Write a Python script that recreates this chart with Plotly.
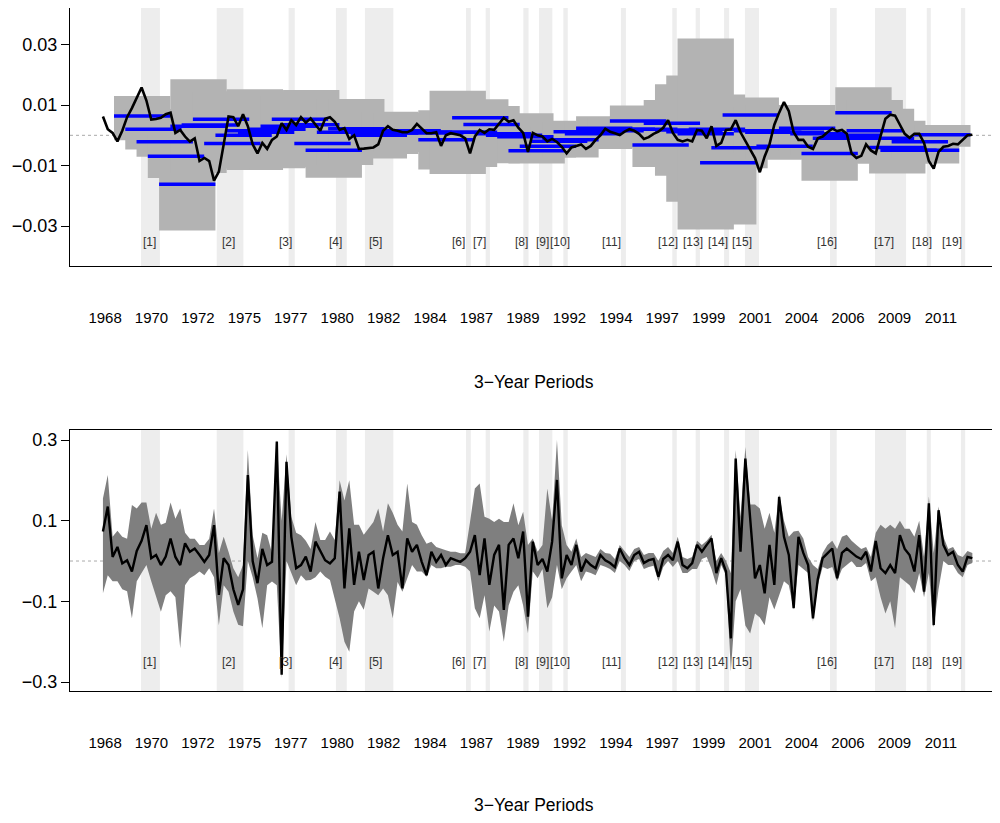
import numpy as np
import plotly.graph_objects as go

# ---------------- data ----------------
year_labels = ["1968", "1970", "1972", "1975", "1977", "1980", "1982", "1984", "1987", "1989",
               "1992", "1994", "1997", "1999", "2001", "2004", "2006", "2009", "2011"]

# shaded event periods (decimal years) and their labels
event_start = [1969.92, 1973.84, 1977.56, 1980.01, 1981.51, 1986.74, 1987.76, 1989.71, 1990.52, 1991.78,
               1994.76, 1997.42, 1998.63, 2000.10, 2001.18, 2005.58, 2007.91, 2010.59, 2012.36]
event_end = [1970.90, 1975.22, 1977.88, 1980.57, 1982.98, 1986.99, 1987.98, 1989.98, 1991.21, 1992.01,
             1995.02, 1997.65, 1998.85, 2000.36, 2001.91, 2005.93, 2009.52, 2010.80, 2012.58]
event_label_x = [1970.37, 1974.46, 1977.40, 1979.98, 1982.04, 1986.33, 1987.44, 1989.61, 1990.68, 1991.61,
                 1994.27, 1997.22, 1998.50, 1999.79, 2001.05, 2005.44, 2008.39, 2010.35, 2011.90]
event_labels = ["[%d]" % (i + 1) for i in range(19)]

# series (quarterly, starting 1967.95)
series_start = 1967.95
top_series = [
    0.0062, 0.0020, 0.0008, -0.0020, 0.0015, 0.0060, 0.0090, 0.0122, 0.0158, 0.0115,
    0.0052, 0.0054, 0.0058, 0.0070, 0.0075, 0.0008, 0.0018, -0.0004, -0.0021, -0.0010,
    -0.0085, -0.0075, -0.0085, -0.0150, -0.0120, -0.0030, 0.0062, 0.0060, 0.0030, 0.0070,
    0.0030, -0.0030, -0.0060, -0.0025, -0.0045, -0.0015, -0.0004, 0.0040, 0.0018, 0.0050,
    0.0034, 0.0060, 0.0042, 0.0056, 0.0036, 0.0015, 0.0055, 0.0060, 0.0045, 0.0018,
    0.0024, -0.0012, 0.0000, -0.0045, -0.0044, -0.0043, -0.0040, -0.0030, 0.0015, 0.0030,
    0.0018, 0.0015, 0.0010, 0.0010, 0.0018, 0.0038, 0.0022, 0.0007, 0.0007, 0.0010,
    -0.0035, 0.0000, 0.0007, 0.0003, 0.0000, -0.0010, -0.0060, -0.0004, 0.0018, 0.0008,
    0.0020, 0.0018, 0.0040, 0.0058, 0.0045, 0.0050, 0.0025, 0.0008, -0.0055, 0.0008,
    0.0000, -0.0004, -0.0020, -0.0012, -0.0022, -0.0038, -0.0060, -0.0040, -0.0035, -0.0030,
    -0.0045, -0.0035, -0.0015, 0.0000, 0.0022, 0.0012, 0.0007, 0.0001, 0.0012, 0.0020,
    0.0015, 0.0005, -0.0012, -0.0006, 0.0005, 0.0012, 0.0025, 0.0050, 0.0008, -0.0015,
    -0.0020, -0.0015, -0.0020, 0.0018, 0.0015, -0.0010, 0.0030, -0.0035, -0.0025, 0.0018,
    0.0020, 0.0050, 0.0010, -0.0020, -0.0048, -0.0075, -0.0122, -0.0070, -0.0030, 0.0035,
    0.0075, 0.0110, 0.0080, 0.0010, -0.0015, -0.0015, -0.0038, -0.0045, -0.0010, -0.0004,
    0.0010, 0.0022, 0.0014, 0.0018, 0.0005, -0.0060, -0.0075, -0.0068, -0.0030, -0.0050,
    -0.0060, 0.0000, 0.0055, 0.0068, 0.0065, 0.0035, 0.0005, -0.0008, 0.0005, 0.0005,
    -0.0025, -0.0085, -0.0110, -0.0055, -0.0038, -0.0035, -0.0028, -0.0030, -0.0015, 0.0000,
    0.0002]

bottom_series = [
    0.073, 0.135, 0.010, 0.035, -0.006, 0.002, -0.026, 0.025, 0.050, 0.089,
    0.007, 0.015, -0.010, 0.011, 0.056, 0.010, -0.010, 0.044, 0.023, 0.031,
    0.015, -0.002, 0.015, 0.089, -0.084, 0.007, -0.010, -0.070, -0.109, -0.070,
    0.213, 0.000, -0.055, 0.030, -0.010, -0.002, 0.296, -0.282, 0.246, 0.060,
    -0.018, -0.010, 0.011, -0.026, 0.048, 0.023, 0.002, -0.006, 0.007, 0.172,
    -0.068, 0.081, -0.059, 0.023, -0.047, 0.015, 0.023, -0.068, 0.007, 0.064,
    0.015, 0.023, -0.068, 0.056, 0.023, 0.040, -0.002, -0.035, 0.023, -0.002,
    0.015, -0.010, 0.007, 0.002, -0.002, 0.007, 0.023, 0.064, -0.035, 0.056,
    -0.059, 0.015, 0.040, -0.121, 0.040, 0.056, 0.007, 0.073, -0.138, 0.048,
    -0.010, 0.005, -0.026, 0.048, 0.201, -0.043, 0.015, -0.010, 0.040, -0.026,
    0.002, -0.010, -0.018, 0.015, 0.002, -0.005, -0.015, 0.031, 0.007, -0.010,
    0.015, 0.023, -0.005, 0.002, 0.005, -0.039, 0.005, 0.015, 0.002, 0.048,
    -0.010, -0.018, -0.005, 0.040, 0.023, 0.040, 0.056, -0.030, 0.007, -0.026,
    -0.192, 0.254, 0.023, 0.254, 0.110, -0.043, -0.010, -0.080, 0.040, -0.059,
    0.159, 0.060, 0.015, -0.117, 0.060, 0.020, -0.010, -0.142, -0.045, 0.007,
    0.019, 0.031, -0.043, 0.020, 0.031, 0.020, 0.011, 0.005, 0.023, -0.026,
    0.050, -0.018, -0.030, -0.010, -0.030, 0.064, 0.030, 0.015, -0.026, 0.064,
    -0.076, 0.143, -0.159, 0.126, 0.040, 0.015, 0.023, -0.010, -0.026, 0.010,
    0.007]

bottom_upper = [
    0.155, 0.213, 0.060, 0.075, 0.060, 0.055, 0.139, 0.130, 0.145, 0.145,
    0.080, 0.120, 0.090, 0.095, 0.145, 0.105, 0.130, 0.070, 0.055, 0.055,
    0.040, 0.040, 0.055, 0.130, 0.020, 0.060, 0.023, -0.018, -0.040, -0.010,
    0.275, 0.064, 0.007, 0.070, 0.064, 0.020, 0.300, 0.100, 0.265, 0.110,
    0.070, 0.064, 0.050, 0.030, 0.097, 0.052, 0.052, 0.073, 0.052, 0.200,
    0.150, 0.200, 0.090, 0.090, 0.065, 0.080, 0.097, 0.130, 0.073, 0.143,
    0.120, 0.090, 0.073, 0.192, 0.097, 0.090, 0.064, 0.043, 0.048, 0.035,
    0.030, 0.027, 0.023, 0.023, 0.019, 0.019, 0.097, 0.180, 0.192, 0.110,
    0.105, 0.097, 0.105, 0.097, 0.097, 0.143, 0.089, 0.122, 0.040, 0.056,
    0.023, 0.040, 0.180, 0.100, 0.300, 0.089, 0.040, 0.023, 0.056, 0.010,
    0.020, 0.015, 0.010, 0.030, 0.020, 0.018, 0.005, 0.040, 0.025, 0.010,
    0.030, 0.035, 0.015, 0.020, 0.020, 0.000, 0.025, 0.035, 0.020, 0.060,
    0.010, 0.005, 0.010, 0.050, 0.040, 0.050, 0.065, 0.000, 0.020, 0.000,
    -0.030, 0.275, 0.110, 0.283, 0.140, 0.140, 0.130, 0.080, 0.120, 0.070,
    0.165, 0.100, 0.060, 0.073, 0.075, 0.056, 0.010, -0.010, -0.020, 0.020,
    0.040, 0.050, 0.030, 0.060, 0.065, 0.050, 0.040, 0.030, 0.035, 0.010,
    0.070, 0.090, 0.080, 0.090, 0.080, 0.100, 0.080, 0.080, 0.060, 0.100,
    0.010, 0.160, 0.020, 0.135, 0.060, 0.030, 0.035, 0.015, 0.010, 0.025,
    0.020]

bottom_lower = [
    -0.080, -0.035, -0.050, -0.050, -0.070, -0.075, -0.142, -0.050, -0.030, -0.010,
    -0.050, -0.090, -0.126, -0.085, -0.075, -0.090, -0.216, -0.060, -0.043, -0.035,
    -0.026, -0.035, -0.018, -0.040, -0.159, -0.060, -0.076, -0.125, -0.158, -0.162,
    0.000, -0.040, -0.093, -0.167, -0.060, -0.051, -0.060, -0.290, 0.000, -0.030,
    -0.060, -0.035, -0.048, -0.047, -0.040, -0.026, -0.039, -0.047, -0.093, -0.142,
    -0.200, -0.225, -0.125, -0.100, -0.121, -0.068, -0.076, -0.085, -0.068, -0.085,
    -0.142, -0.052, -0.076, -0.043, -0.010, -0.026, -0.026, -0.039, -0.010, -0.018,
    -0.018, -0.014, -0.014, -0.010, -0.010, -0.014, -0.026, -0.117, -0.142, -0.085,
    -0.175, -0.110, -0.125, -0.200, -0.110, -0.076, -0.060, -0.110, -0.179, -0.026,
    -0.043, -0.020, -0.117, -0.090, -0.010, -0.070, -0.043, -0.026, -0.010, -0.050,
    -0.026, -0.030, -0.035, -0.010, -0.014, -0.020, -0.030, 0.000, -0.010, -0.025,
    0.000, 0.005, -0.020, -0.015, -0.012, -0.050, -0.015, 0.000, -0.015, 0.000,
    -0.030, -0.030, -0.020, -0.020, 0.005, 0.010, -0.020, -0.060, -0.010, -0.035,
    -0.274, -0.100, -0.070, -0.160, -0.180, -0.130, -0.140, -0.159, -0.090, -0.120,
    -0.085, -0.050, -0.060, -0.120, -0.010, -0.020, -0.030, -0.150, -0.060, -0.015,
    -0.020, -0.015, -0.050, -0.020, -0.010, 0.000, -0.015, -0.015, -0.005, -0.050,
    -0.040, -0.090, -0.130, -0.100, -0.167, -0.040, -0.050, -0.060, -0.080, -0.030,
    -0.090, -0.030, -0.165, -0.070, 0.000, -0.010, -0.010, -0.030, -0.040, -0.010,
    -0.005]

# rolling 3-year periods: first start, step and length (years)
period_first = 1968.5225
period_step = 7 / 12
period_len = 35 / 12
period_mean = [
    0.0064, 0.0020, -0.0021, -0.0069, -0.0162, 0.0030, 0.0034, 0.0053, -0.0027, 0.0000,
    0.0015, 0.0010, 0.0020, 0.0030, 0.0053, 0.0035, -0.0027, -0.0049, 0.0010, 0.0022,
    0.0012, 0.0000, 0.0008, 0.0012, 0.0015, 0.0010, 0.0008, -0.0015, 0.0010, 0.0010,
    0.0058, 0.0036, 0.0005, 0.0000, -0.0005, -0.0051, -0.0036, -0.0020, -0.0015, 0.0012,
    0.0005, 0.0023, 0.0015, 0.0020, 0.0047, 0.0020, -0.0032, 0.0040, 0.0018, 0.0012,
    0.0005, 0.0020, -0.0091, -0.0041, 0.0067, 0.0015, 0.0010, -0.0036, 0.0010, 0.0023,
    0.0005, -0.0060, -0.0010, 0.0000, 0.0075, 0.0015, -0.0010, -0.0040, -0.0049, -0.0021,
    -0.0049, 0.0002]
period_lo = [
    -0.0016, -0.0047, -0.0071, -0.0141, -0.0315, -0.0125, -0.0066, -0.0040, -0.0110, -0.0100,
    -0.0115, -0.0090, -0.0109, -0.0080, -0.0060, -0.0080, -0.0105, -0.0140, -0.0098, -0.0075,
    -0.0055, -0.0077, -0.0062, -0.0055, -0.0045, -0.0050, -0.0055, -0.0113, -0.0128, -0.0105,
    -0.0003, -0.0092, -0.0075, -0.0080, -0.0085, -0.0093, -0.0073, -0.0070, -0.0073, -0.0040,
    -0.0040, -0.0045, -0.0040, -0.0035, -0.0005, -0.0040, -0.0105, -0.0037, -0.0134, -0.0220,
    -0.0311, -0.0095, -0.0295, -0.0109, 0.0009, -0.0060, -0.0080, -0.0080, -0.0060, -0.0054,
    -0.0065, -0.0150, -0.0093, -0.0080, -0.0009, -0.0087, -0.0093, -0.0126, -0.0093, -0.0075,
    -0.0093, -0.0038]
period_hi = [
    0.0130, 0.0087, 0.0029, 0.0003, -0.0009, 0.0185, 0.0134, 0.0146, 0.0056, 0.0100,
    0.0152, 0.0110, 0.0140, 0.0130, 0.0145, 0.0150, 0.0051, 0.0042, 0.0118, 0.0120,
    0.0075, 0.0075, 0.0078, 0.0075, 0.0075, 0.0070, 0.0070, 0.0083, 0.0147, 0.0115,
    0.0119, 0.0097, 0.0070, 0.0070, 0.0073, -0.0009, 0.0048, 0.0030, 0.0043, 0.0045,
    0.0045, 0.0063, 0.0060, 0.0060, 0.0099, 0.0085, 0.0040, 0.0117, 0.0169, 0.0198,
    0.0320, 0.0135, 0.0113, 0.0027, 0.0125, 0.0095, 0.0100, 0.0008, 0.0080, 0.0100,
    0.0075, 0.0030, 0.0073, 0.0080, 0.0159, 0.0117, 0.0088, 0.0048, -0.0005, 0.0030,
    0.0000, 0.0034]

# ---------------- derived x positions ----------------
x_series = series_start + 0.25 * np.arange(len(top_series))
p_start = period_first + period_step * np.arange(len(period_mean))
p_end = p_start + period_len
tick_pos = np.linspace(1968.06, 2011.32, len(year_labels))

X_RANGE = [1966.245, 2014.226]
FONT = "Liberation Sans, Arial, sans-serif"

fig = go.Figure()

shapes = []
# event bands in both panels
for xr, yr in (("x", "y domain"), ("x2", "y2 domain")):
    for s, e in zip(event_start, event_end):
        shapes.append(dict(type="rect", xref=xr, yref=yr, x0=s, x1=e, y0=0, y1=1,
                           fillcolor="#EDEDED", line=dict(width=0), layer="below"))
# zero reference lines
shapes.append(dict(type="line", xref="x domain", yref="y", x0=0, x1=1, y0=0, y1=0,
                   line=dict(color="#AAAAAA", width=1, dash="dot"), layer="below"))
shapes.append(dict(type="line", xref="x2 domain", yref="y2", x0=0, x1=1, y0=0, y1=0,
                   line=dict(color="#AAAAAA", width=1, dash="dot"), layer="below"))
# gray period ranges (top panel)
for s, e, lo, hi in zip(p_start, p_end, period_lo, period_hi):
    shapes.append(dict(type="rect", xref="x", yref="y", x0=s, x1=e, y0=lo, y1=hi,
                       fillcolor="#B3B3B3", line=dict(width=0), layer="below"))

# blue period means
bx, by = [], []
for s, e, m in zip(p_start, p_end, period_mean):
    bx += [s, e, None]
    by += [m, m, None]
fig.add_trace(go.Scatter(x=bx, y=by, mode="lines", line=dict(color="#0000FF", width=3.5),
                         xaxis="x", yaxis="y", hoverinfo="skip"))
# black series top
fig.add_trace(go.Scatter(x=x_series, y=top_series, mode="lines",
                         line=dict(color="black", width=2.6), xaxis="x", yaxis="y"))

# bottom band
fig.add_trace(go.Scatter(x=x_series, y=bottom_upper, mode="lines", line=dict(width=0, color="#7F7F7F"),
                         xaxis="x2", yaxis="y2", hoverinfo="skip"))
fig.add_trace(go.Scatter(x=x_series, y=bottom_lower, mode="lines", line=dict(width=0, color="#7F7F7F"),
                         fill="tonexty", fillcolor="#7F7F7F", xaxis="x2", yaxis="y2", hoverinfo="skip"))
fig.add_trace(go.Scatter(x=x_series, y=bottom_series, mode="lines",
                         line=dict(color="black", width=2.4), xaxis="x2", yaxis="y2"))

annotations = []
for lx, lt in zip(event_label_x, event_labels):
    annotations.append(dict(x=lx, y=0.094, xref="x", yref="y domain", text=lt, showarrow=False,
                            yanchor="middle", font=dict(family=FONT, size=12, color="#333333")))
    annotations.append(dict(x=lx, y=0.112, xref="x2", yref="y2 domain", text=lt, showarrow=False,
                            yanchor="middle", font=dict(family=FONT, size=12, color="#333333")))
annotations.append(dict(x=0.5, y=-0.4496, xref="x domain", yref="y domain", text="3\u2212Year Periods",
                        showarrow=False, yanchor="middle", font=dict(family=FONT, size=17.5, color="black")))
annotations.append(dict(x=0.5, y=-0.4368, xref="x2 domain", yref="y2 domain", text="3\u2212Year Periods",
                        showarrow=False, yanchor="middle", font=dict(family=FONT, size=17.5, color="black")))

xaxis_common = dict(range=X_RANGE, tickvals=tick_pos, ticktext=year_labels, ticks="",
                    showgrid=False, zeroline=False, showline=True, mirror=True,
                    linecolor="black", linewidth=1, ticklabelstandoff=38, automargin=False,
                    tickfont=dict(family=FONT, size=15, color="black"))
yaxis_common = dict(showgrid=False, zeroline=False, showline=True, mirror=True,
                    linecolor="black", linewidth=1, ticks="outside", ticklen=8,
                    tickcolor="black", tickwidth=1, automargin=False,
                    tickfont=dict(family=FONT, size=18, color="black"))

# the page body adds an 8px offset; the figure size/margins compensate for it
fig.update_layout(
    width=992, height=815,
    margin=dict(l=62, r=3, t=0, b=132),
    paper_bgcolor="white", plot_bgcolor="white",
    showlegend=False,
    shapes=shapes, annotations=annotations,
    xaxis=dict(domain=[0, 1], anchor="y", **xaxis_common),
    xaxis2=dict(domain=[0, 1], anchor="y2", **xaxis_common),
    yaxis=dict(domain=[0.6223, 1], anchor="x", range=[-0.0432, 0.0421],
               tickvals=[-0.03, -0.01, 0.01, 0.03],
               ticktext=["\u22120.03", "\u22120.01", "0.01", "0.03"], **yaxis_common),
    yaxis2=dict(domain=[0, 0.3821], anchor="x2", range=[-0.3223, 0.3248],
                tickvals=[-0.3, -0.1, 0.1, 0.3],
                ticktext=["\u22120.3", "\u22120.1", "0.1", "0.3"], **yaxis_common),
)

fig.write_html("out.html")
